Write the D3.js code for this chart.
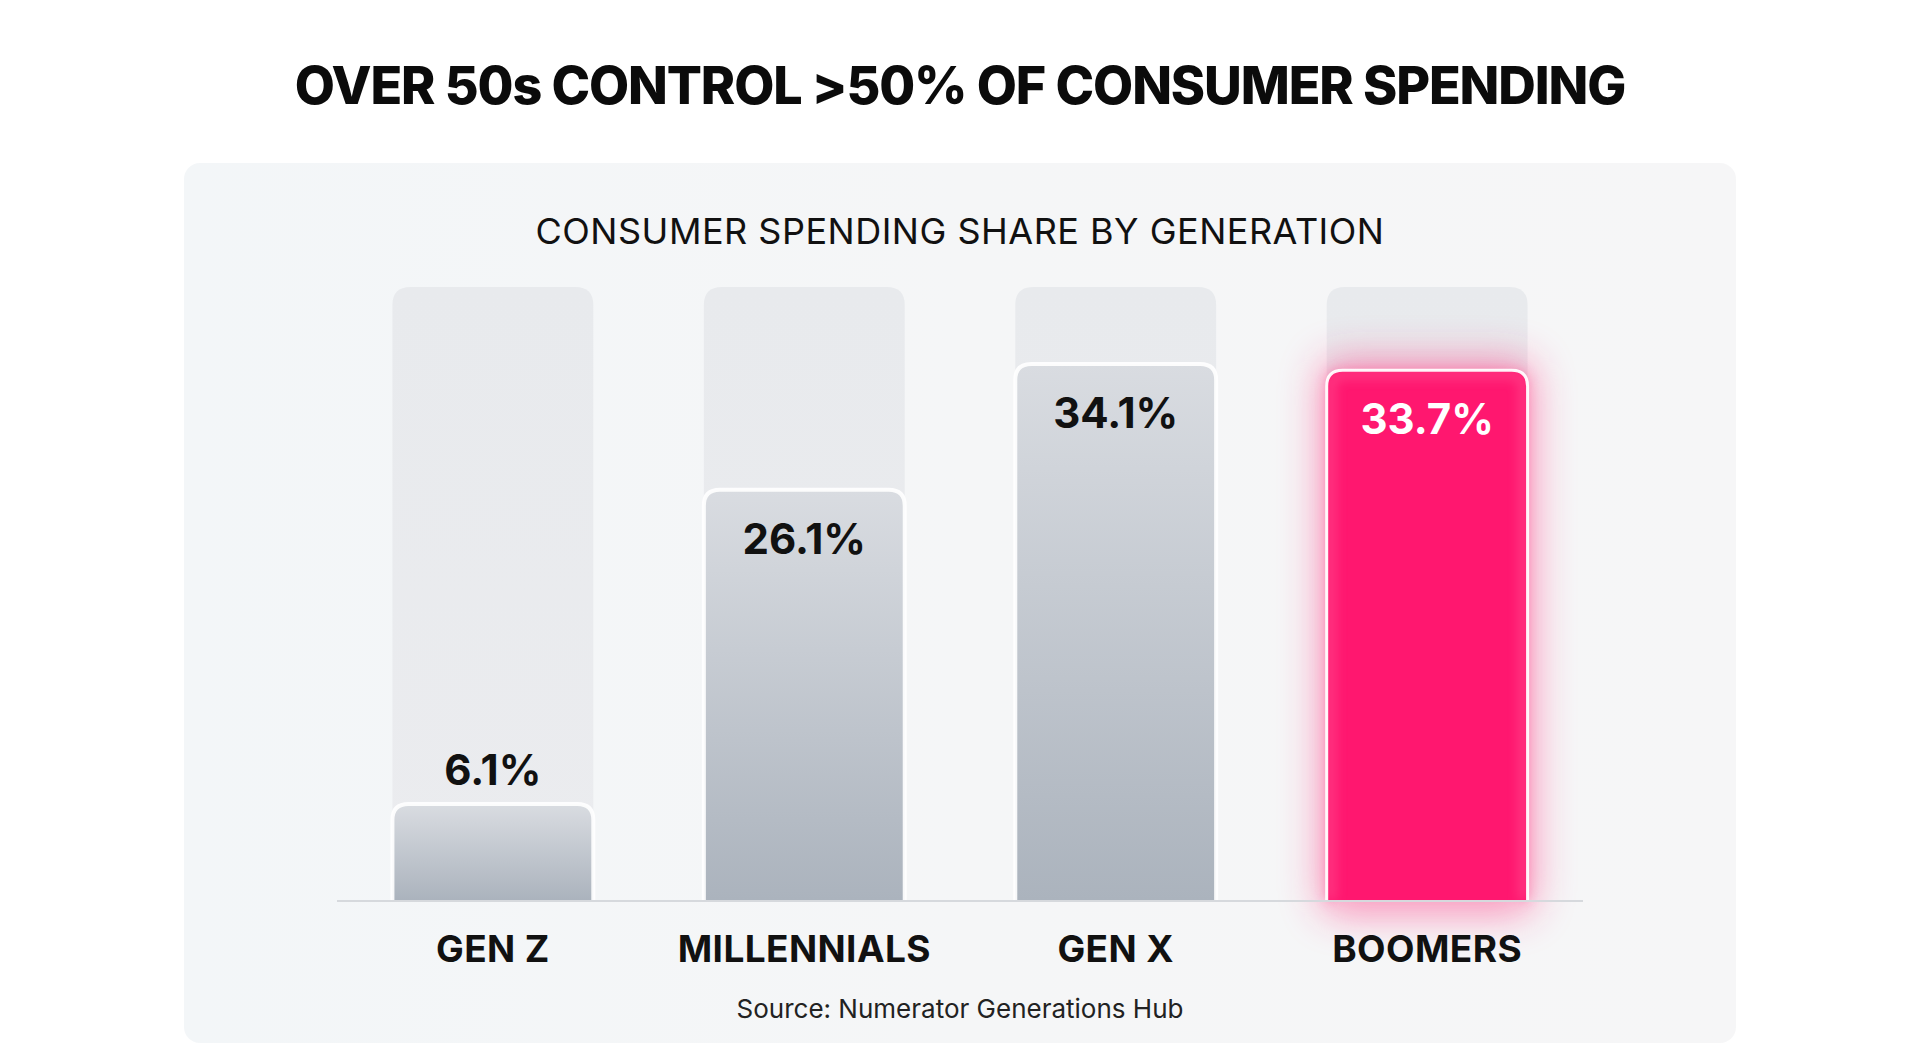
<!DOCTYPE html>
<html lang="en">
<head>
    <meta charset="UTF-8">
    <script src="https://d3js.org/d3.v7.min.js"></script>
    <style>
        body, html {
            width: 100%;
            height: 100%;
            margin: 0;
            overflow: hidden;
            background: #ffffff;
            font-family: Inter, "Noto Sans", Arial, sans-serif;
        }
    </style>
</head>
<body>
    <div id="chart"></div>

    <script>
        // data
        const categories = ["GEN Z", "MILLENNIALS", "GEN X", "BOOMERS"];
        const shares = [6.1, 26.1, 34.1, 33.7];
        const highlight = ["BOOMERS"];
        const trackMax = 39;

        const title = "OVER 50s CONTROL >50% OF CONSUMER SPENDING";
        const subtitle = "CONSUMER SPENDING SHARE BY GENERATION";
        const source = "Source: Numerator Generations Hub";

        const W = 1920, H = 1048;
        const baseY = 900, topY = 287;

        const data = categories.map((c, i) => ({ cat: c, value: shares[i] }));

        const svg = d3.select("#chart")
            .append("svg")
            .attr("width", W)
            .attr("height", H);

        const defs = svg.append("defs");

        const grey = defs.append("linearGradient")
            .attr("id", "greyGrad")
            .attr("x1", 0).attr("y1", 0).attr("x2", 0).attr("y2", 1);
        grey.append("stop").attr("offset", "0%").attr("stop-color", "#d9dce1");
        grey.append("stop").attr("offset", "100%").attr("stop-color", "#abb3bd");

        const track = defs.append("linearGradient")
            .attr("id", "trackGrad")
            .attr("x1", 0).attr("y1", 0).attr("x2", 0).attr("y2", 1);
        track.append("stop").attr("offset", "0%").attr("stop-color", "#e8eaed");
        track.append("stop").attr("offset", "100%").attr("stop-color", "#ebecef");

        const panelGrad = defs.append("linearGradient")
            .attr("id", "panelGrad")
            .attr("x1", 0).attr("y1", 0).attr("x2", 1).attr("y2", 0);
        panelGrad.append("stop").attr("offset", "0%").attr("stop-color", "#f3f6f8");
        panelGrad.append("stop").attr("offset", "50%").attr("stop-color", "#f5f6f7");
        panelGrad.append("stop").attr("offset", "100%").attr("stop-color", "#f6f6f7");

        const glow = defs.append("filter")
            .attr("id", "glow")
            .attr("x", "-60%").attr("y", "-30%")
            .attr("width", "220%").attr("height", "160%");
        glow.append("feGaussianBlur").attr("stdDeviation", 20);

        const inner = defs.append("filter").attr("id", "innerGlow");
        inner.append("feGaussianBlur").attr("stdDeviation", 6);

        // panel
        svg.append("rect")
            .attr("x", 184).attr("y", 163)
            .attr("width", 1552).attr("height", 880)
            .attr("rx", 16)
            .attr("fill", "url(#panelGrad)");

        svg.append("text")
            .attr("x", W / 2).attr("y", 104)
            .attr("text-anchor", "middle")
            .style("font-size", "52px")
            .style("font-weight", 800)
            .style("letter-spacing", "-1.1px")
            .style("fill", "#0b0b0b")
            .text(title);

        svg.append("text")
            .attr("x", W / 2).attr("y", 244)
            .attr("text-anchor", "middle")
            .style("font-size", "36px")
            .style("font-weight", 400)
            .style("letter-spacing", "0.5px")
            .style("fill", "#111")
            .text(subtitle);

        const x = d3.scaleBand()
            .domain(categories)
            .range([337, 1583])
            .paddingInner(0.355)
            .paddingOuter(0.178);

        const y = d3.scaleLinear()
            .domain([0, trackMax])
            .range([baseY, topY]);

        const bw = x.bandwidth();

        function topRounded(x0, y0, w, h, r) {
            return `M${x0},${y0 + h} V${y0 + r} Q${x0},${y0} ${x0 + r},${y0} H${x0 + w - r} Q${x0 + w},${y0} ${x0 + w},${y0 + r} V${y0 + h} Z`;
        }
        function topOutline(x0, y0, w, h, r) {
            return `M${x0},${y0 + h} V${y0 + r} Q${x0},${y0} ${x0 + r},${y0} H${x0 + w - r} Q${x0 + w},${y0} ${x0 + w},${y0 + r} V${y0 + h}`;
        }

        // tracks
        svg.selectAll(".track")
            .data(data)
            .enter()
            .append("path")
            .attr("class", "track")
            .attr("d", d => topRounded(x(d.cat), y(trackMax), bw, baseY - y(trackMax), 18))
            .attr("fill", "url(#trackGrad)");

        // glow behind highlighted bar
        svg.selectAll(".glow")
            .data(data.filter(d => highlight.includes(d.cat)))
            .enter()
            .append("rect")
            .attr("x", d => x(d.cat) - 6)
            .attr("y", d => y(d.value) - 10)
            .attr("width", bw + 12)
            .attr("height", d => baseY - y(d.value) + 24)
            .attr("rx", 18)
            .attr("fill", "#ff2d7d")
            .attr("opacity", 0.5)
            .attr("filter", "url(#glow)");

        // value bars
        svg.selectAll(".bar")
            .data(data)
            .enter()
            .append("path")
            .attr("class", "bar")
            .attr("d", d => topRounded(x(d.cat), y(d.value), bw, baseY - y(d.value), 16))
            .attr("fill", d => highlight.includes(d.cat) ? "#ff176f" : "url(#greyGrad)");

        // soft inner edge on highlighted bar
        svg.selectAll(".inner")
            .data(data.filter(d => highlight.includes(d.cat)))
            .enter()
            .append("path")
            .attr("d", d => topOutline(x(d.cat) + 4, y(d.value) + 4, bw - 8, baseY - y(d.value) - 4, 12))
            .attr("fill", "none")
            .attr("stroke", "#ff5a98")
            .attr("stroke-width", 8)
            .attr("opacity", 0.6)
            .attr("filter", "url(#innerGlow)");

        // white outlines
        svg.selectAll(".outline")
            .data(data)
            .enter()
            .append("path")
            .attr("class", "outline")
            .attr("d", d => topOutline(x(d.cat), y(d.value), bw, baseY - y(d.value), 16))
            .attr("fill", "none")
            .attr("stroke", "#ffffff")
            .attr("stroke-width", d => highlight.includes(d.cat) ? 3 : 4)
            .attr("stroke-opacity", d => highlight.includes(d.cat) ? 0.95 : 0.9);

        // baseline
        svg.append("line")
            .attr("x1", 337).attr("x2", 1583)
            .attr("y1", baseY + 1).attr("y2", baseY + 1)
            .attr("stroke", "#d6d9dd")
            .attr("stroke-width", 2);

        // value labels
        svg.selectAll(".value")
            .data(data)
            .enter()
            .append("text")
            .attr("class", "value")
            .attr("x", d => x(d.cat) + bw / 2)
            .attr("y", d => (baseY - y(d.value) < 150) ? y(d.value) - 19 : y(d.value) + 64)
            .attr("text-anchor", "middle")
            .style("font-size", "42px")
            .style("font-weight", 700)
            .style("fill", d => highlight.includes(d.cat) ? "#ffffff" : "#111")
            .text(d => d.value.toFixed(1) + "%");

        // category axis labels
        const axis = d3.axisBottom(x).tickSize(0).tickPadding(0);
        const gAxis = svg.append("g")
            .attr("transform", `translate(0,${baseY})`)
            .call(axis);
        gAxis.select(".domain").remove();
        gAxis.selectAll("text")
            .attr("y", 62)
            .attr("dy", 0)
            .style("font-family", "Inter, 'Noto Sans', Arial, sans-serif")
            .style("font-size", "37px")
            .style("font-weight", 700)
            .style("letter-spacing", "0.4px")
            .style("fill", "#111");

        svg.append("text")
            .attr("x", W / 2).attr("y", 1018)
            .attr("text-anchor", "middle")
            .style("font-size", "26px")
            .style("font-weight", 400)
            .style("fill", "#222")
            .text(source);
    </script>
</body>
</html>
